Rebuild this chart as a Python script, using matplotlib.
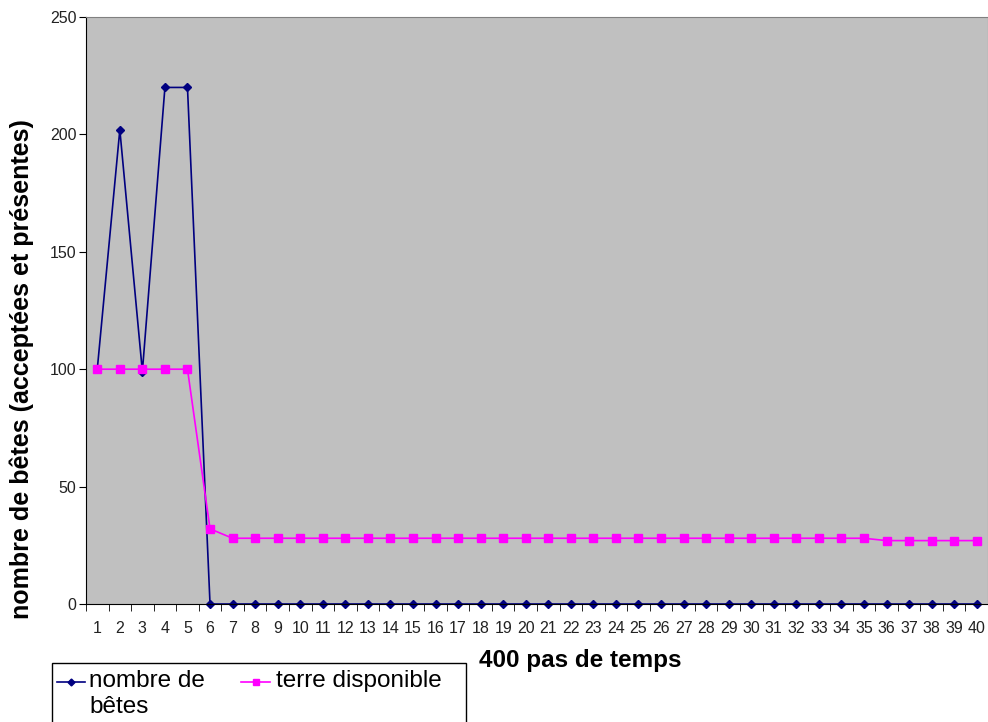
import matplotlib
matplotlib.use("Agg")
import matplotlib.pyplot as plt
from matplotlib.lines import Line2D
from matplotlib.patches import Rectangle
import numpy as np

plt.rcParams['font.family'] = ['Liberation Sans', 'DejaVu Sans']

steps = list(range(1, 41))
betes = [100, 202, 99, 220, 220] + [0] * 35
terre = [100, 100, 100, 100, 100, 32] + [28] * 29 + [27] * 5
series_labels = ['nombre de\nbêtes', 'terre disponible']
colors = ['#000080', '#FF00FF']
markers = ['D', 's']
msizes = [4.5, 6]

W, H = 988, 722
fig = plt.figure(figsize=(W / 100, H / 100), dpi=100)
ax = fig.add_axes([86 / W, 1 - 604 / H, (988 - 86) / W, (604 - 17) / H])
ax.set_facecolor('#C0C0C0')

x = np.arange(len(steps))
for vals, c, m, ms, lab in zip([betes, terre], colors, markers, msizes, series_labels):
    ax.plot(x, vals, color=c, lw=1.2, marker=m, ms=ms, label=lab, clip_on=False)

ax.set_xlim(-0.5, len(steps) - 0.5)
ax.set_ylim(0, 250)
ax.set_yticks([0, 50, 100, 150, 200, 250])
ax.set_xticks(x)
ax.set_xticklabels([str(s) for s in steps], fontsize=11.5, color='#222222')
ax.set_xticks(np.arange(-0.5, len(steps), 1), minor=True)
ax.tick_params(axis='x', which='major', length=0, pad=12)
ax.tick_params(axis='x', which='minor', length=5, direction='out')
ax.tick_params(axis='y', labelsize=11.5, length=5, pad=2, direction='out', labelcolor='#222222')
for s in ['top', 'right']:
    ax.spines[s].set_color('#808080')
for s in ['left', 'bottom']:
    ax.spines[s].set_color('black')

fig.text(22 / W, 1 - 369 / H, 'nombre de bêtes (acceptées et présentes)', rotation=90,
         fontsize=18, fontweight='bold', ha='center', va='center')
fig.text(580 / W, 1 - 661 / H, '400 pas de temps', fontsize=17.5, fontweight='bold',
         ha='center', va='center')

# legend box (drawn as in the reference, partially cut at bottom)
fig.patches.append(Rectangle((52 / W, 1 - 740 / H), (466 - 52) / W, (740 - 663) / H,
                             transform=fig.transFigure, facecolor='white', edgecolor='black',
                             lw=1.0, figure=fig))
hx = [(57, 85), (241, 270)]
tx = [89, 276]
for (x0, x1), t, c, m, ms, lab in zip(hx, tx, colors, markers, msizes, series_labels):
    yy = 1 - 682 / H
    fig.lines.append(Line2D([x0 / W, x1 / W], [yy, yy], transform=fig.transFigure,
                            color=c, lw=1.2, figure=fig))
    fig.lines.append(Line2D([(x0 + x1) / 2 / W], [yy], transform=fig.transFigure,
                            color=c, marker=m, ms=ms - 1, lw=0, figure=fig))
    fig.text(t / W, 1 - 670 / H, lab, fontsize=17.5, ha='left', va='top', linespacing=1.25)

fig.savefig('out.png', dpi=100)
